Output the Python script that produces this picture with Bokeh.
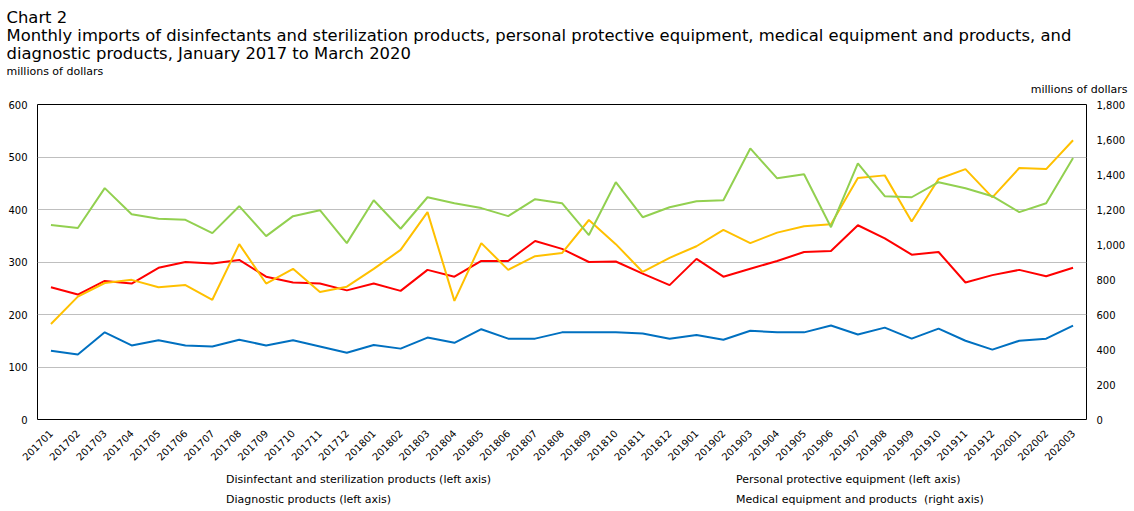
from math import pi

from bokeh.embed import file_html
from bokeh.layouts import column
from bokeh.models import (FactorRange, Legend, LegendItem, LinearAxis, Title,
                          Range1d, FixedTicker, NumeralTickFormatter)
from bokeh.plotting import figure
from bokeh.resources import INLINE

# Monthly imports, millions of dollars
months = [f"{y}{m:02d}" for y in (2017, 2018, 2019) for m in range(1, 13)] + ["202001", "202002", "202003"]

disinfectant = [131, 124, 166, 141, 151, 141, 139, 152, 141, 151, 139, 127,
                142, 135, 156, 146, 172, 154, 154, 166, 166, 166, 164, 154,
                161, 152, 169, 166, 166, 179, 162, 175, 154, 173, 150, 133,
                150, 154, 179]
ppe = [252, 238, 264, 259, 289, 300, 297, 304, 272, 261, 259, 246,
       259, 245, 285, 272, 302, 302, 340, 325, 300, 301, 278, 256,
       306, 272, 287, 302, 319, 321, 370, 345, 314, 319, 261, 275,
       285, 273, 289]
diagnostic = [182, 234, 260, 266, 252, 256, 228, 334, 259, 287, 243, 253,
              287, 323, 395, 226, 336, 285, 311, 317, 380, 334, 281, 308,
              330, 361, 336, 356, 368, 372, 460, 465, 377, 458, 477, 423,
              479, 477, 532]
medical = [1111, 1094, 1322, 1173, 1147, 1141, 1065, 1219, 1048, 1162, 1196, 1008,
           1253, 1090, 1270, 1236, 1208, 1162, 1259, 1236, 1054, 1356, 1156, 1213,
           1247, 1253, 1549, 1378, 1401, 1099, 1464, 1276, 1270, 1356, 1321, 1276,
           1185, 1236, 1494]

left_ticks = [0, 100, 200, 300, 400, 500, 600]
right_ticks = [0, 200, 400, 600, 800, 1000, 1200, 1400, 1600, 1800]

series_names = ["Disinfectant and sterilization products (left axis)",
                "Personal protective equipment (left axis)",
                "Diagnostic products (left axis)",
                "Medical equipment and products  (right axis)"]
series_colors = ["#0070C0", "#FF0000", "#FFC000", "#92D050"]

chart_title = ("Chart 2\n"
               "Monthly imports of disinfectants and sterilization products, personal protective "
               "equipment, medical equipment and products, and\n"
               "diagnostic products, January 2017 to March 2020")
unit_label = "millions of dollars"

FONT = "DejaVu Sans"
CHART_H = 469
KEY_H = 511 - CHART_H

p = figure(width=1134, height=CHART_H, x_range=FactorRange(factors=months),
           y_range=Range1d(0, 600), output_backend="svg", toolbar_location=None,
           title=None, min_border_left=37, min_border_right=48, min_border_top=104,
           min_border_bottom=50, margin=0)
p.extra_y_ranges = {"right": Range1d(0, 1800)}

p.outline_line_color = "black"
p.outline_line_width = 1
p.xgrid.grid_line_color = None
p.ygrid.grid_line_color = "#bfbfbf"
p.ygrid.ticker = FixedTicker(ticks=left_ticks)

def style_axis(ax):
    ax.axis_line_color = None
    ax.major_tick_line_color = None
    ax.minor_tick_line_color = None
    ax.major_tick_out = 0
    ax.major_tick_in = 0
    ax.major_label_text_font = FONT
    ax.major_label_text_font_size = "10px"
    ax.major_label_text_color = "black"
    ax.major_label_standoff = 10

style_axis(p.xaxis[0])
p.xaxis[0].major_label_orientation = pi / 4
p.xaxis[0].major_label_standoff = 12

style_axis(p.yaxis[0])
p.yaxis[0].ticker = FixedTicker(ticks=left_ticks)

right_axis = LinearAxis(y_range_name="right", ticker=FixedTicker(ticks=right_ticks),
                        formatter=NumeralTickFormatter(format="0,0"))
style_axis(right_axis)
p.add_layout(right_axis, "right")

p.line(months, disinfectant, line_color=series_colors[0], line_width=2)
p.line(months, ppe, line_color=series_colors[1], line_width=2)
p.line(months, diagnostic, line_color=series_colors[2], line_width=2)
p.line(months, medical, line_color=series_colors[3], line_width=2, y_range_name="right")

# Header rows, listed from the plot frame outwards
p.add_layout(Title(text=unit_label, align="right", offset=-41, standoff=17,
                   text_font=FONT, text_font_size="11px", text_font_style="normal",
                   text_color="black"), "above")
p.add_layout(Title(text=unit_label, align="left", offset=-31, standoff=-10,
                   text_font=FONT, text_font_size="11px", text_font_style="normal",
                   text_color="black"), "above")
p.add_layout(Title(text=chart_title, align="left", offset=-31, standoff=9,
                   text_font=FONT, text_font_size="16.4px", text_font_style="normal",
                   text_color="black", text_line_height=0.945), "above")

# Key strip under the chart: one legend row per pair of series
key = figure(width=1134, height=KEY_H, x_range=Range1d(0, 1), y_range=Range1d(0, 1),
             x_axis_type=None, y_axis_type=None, output_backend="svg",
             toolbar_location=None, min_border=0, margin=0)
key.outline_line_color = None
swatches = [key.line(x=[], y=[], line_color=c, line_width=2) for c in series_colors]

def legend_row(idx, y):
    return Legend(items=[LegendItem(label=series_names[i], renderers=[swatches[i]]) for i in idx],
                  orientation="horizontal", location=(157, y),
                  padding=0, margin=0, spacing=0, border_line_color=None,
                  background_fill_alpha=0, glyph_width=28, glyph_height=20,
                  label_height=20, label_width=478, label_standoff=4,
                  label_text_font=FONT, label_text_font_size="11px",
                  label_text_color="black")

key.add_layout(legend_row([0, 1], KEY_H - 20), "center")
key.add_layout(legend_row([2, 3], KEY_H - 40), "center")

layout = column(p, key, spacing=0, margin=0)

open("out.html", "w").write(file_html(layout, INLINE))
